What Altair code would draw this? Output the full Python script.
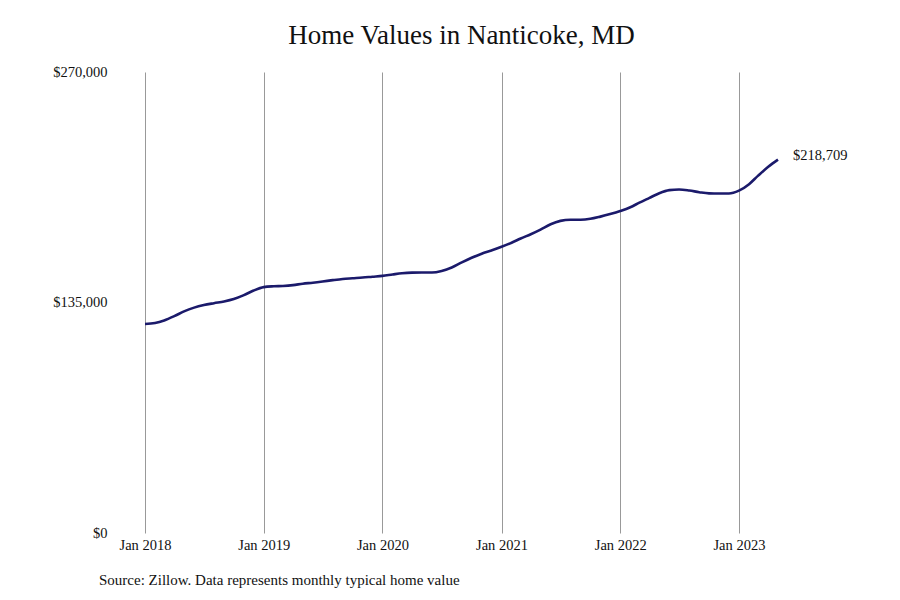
import altair as alt
import pandas as pd

months = pd.date_range("2018-01-01", "2023-05-01", freq="MS").strftime("%Y-%m-%dT00:00:00").tolist()
values = [
    122400, 123000, 124500, 127000, 129800, 132000, 133500, 134600, 135600, 137000, 139300, 142000,
    144000, 144500, 144700, 145200, 146000, 146600, 147300, 148100, 148800, 149200, 149600, 150100,
    150600, 151400, 152100, 152500, 152600, 152600, 153500, 155500, 158500, 161200, 163600, 165500,
    167600, 170000, 172500, 175000, 177700, 180800, 182800, 183500, 183500, 184000, 185300, 186800,
    188600, 190800, 193500, 196300, 199000, 200800, 201200, 200600, 199600, 198900, 198800, 198800,
    200500, 204300, 209300, 214500, 218709,
]
y_ticks = [0, 135000, 270000]
tick_years = [2018, 2019, 2020, 2021, 2022, 2023]
title_text = "Home Values in Nanticoke, MD"
source_text = "Source: Zillow. Data represents monthly typical home value"

df = pd.DataFrame({"date": months, "value": values})
last = df.tail(1).copy()
last["label"] = ["$218,709"]

FONT = "Liberation Serif"
W, H = 633, 461
FS = 14.5

x_enc = alt.X(
    "date:T",
    scale=alt.Scale(domain=[alt.DateTime(year=2018, month=1, date=1),
                            alt.DateTime(year=2023, month=5, date=1)], nice=False),
    axis=alt.Axis(
        values=[alt.DateTime(year=y, month=1, date=1) for y in tick_years],
        format="%b %Y", title=None, grid=True, gridColor="#999999", gridWidth=1,
        domain=False, ticks=False, labelPadding=5, labelFontSize=FS,
        labelFont=FONT, labelColor="#111111", labelFlush=False,
    ),
)
y_enc = alt.Y(
    "value:Q",
    scale=alt.Scale(domain=[0, 270000], nice=False, zero=True),
    axis=alt.Axis(
        values=y_ticks, format="$,.0f", title=None, grid=False, domain=False,
        ticks=False, labelPadding=38, labelFontSize=FS, labelFont=FONT,
        labelColor="#111111",
    ),
)

line = alt.Chart(df).mark_line(color="#1b1a6b", strokeWidth=2.6, interpolate="monotone").encode(
    x=x_enc, y=y_enc
)
end_label = alt.Chart(last).mark_text(
    align="left", dx=15, dy=-4, fontSize=FS, font=FONT, color="#111111"
).encode(x="date:T", y="value:Q", text="label:N")
source = alt.Chart(pd.DataFrame({"t": [source_text]})).mark_text(
    align="left", baseline="middle", fontSize=15, font=FONT, color="#111111"
).encode(x=alt.value(-46), y=alt.value(H + 47), text="t:N")

chart = alt.layer(line, end_label, source).properties(
    width=W, height=H,
    background="white",
    title=alt.TitleParams(title_text, font=FONT, fontSize=27, fontWeight="normal",
                          color="#111111", offset=14, anchor="middle"),
    autosize=alt.AutoSizeParams(type="none"),
    padding={"left": 137, "top": 64, "right": 100, "bottom": 70},
).configure_view(strokeWidth=0)

chart.save("out.html", embed_options={"renderer": "svg", "actions": False})
